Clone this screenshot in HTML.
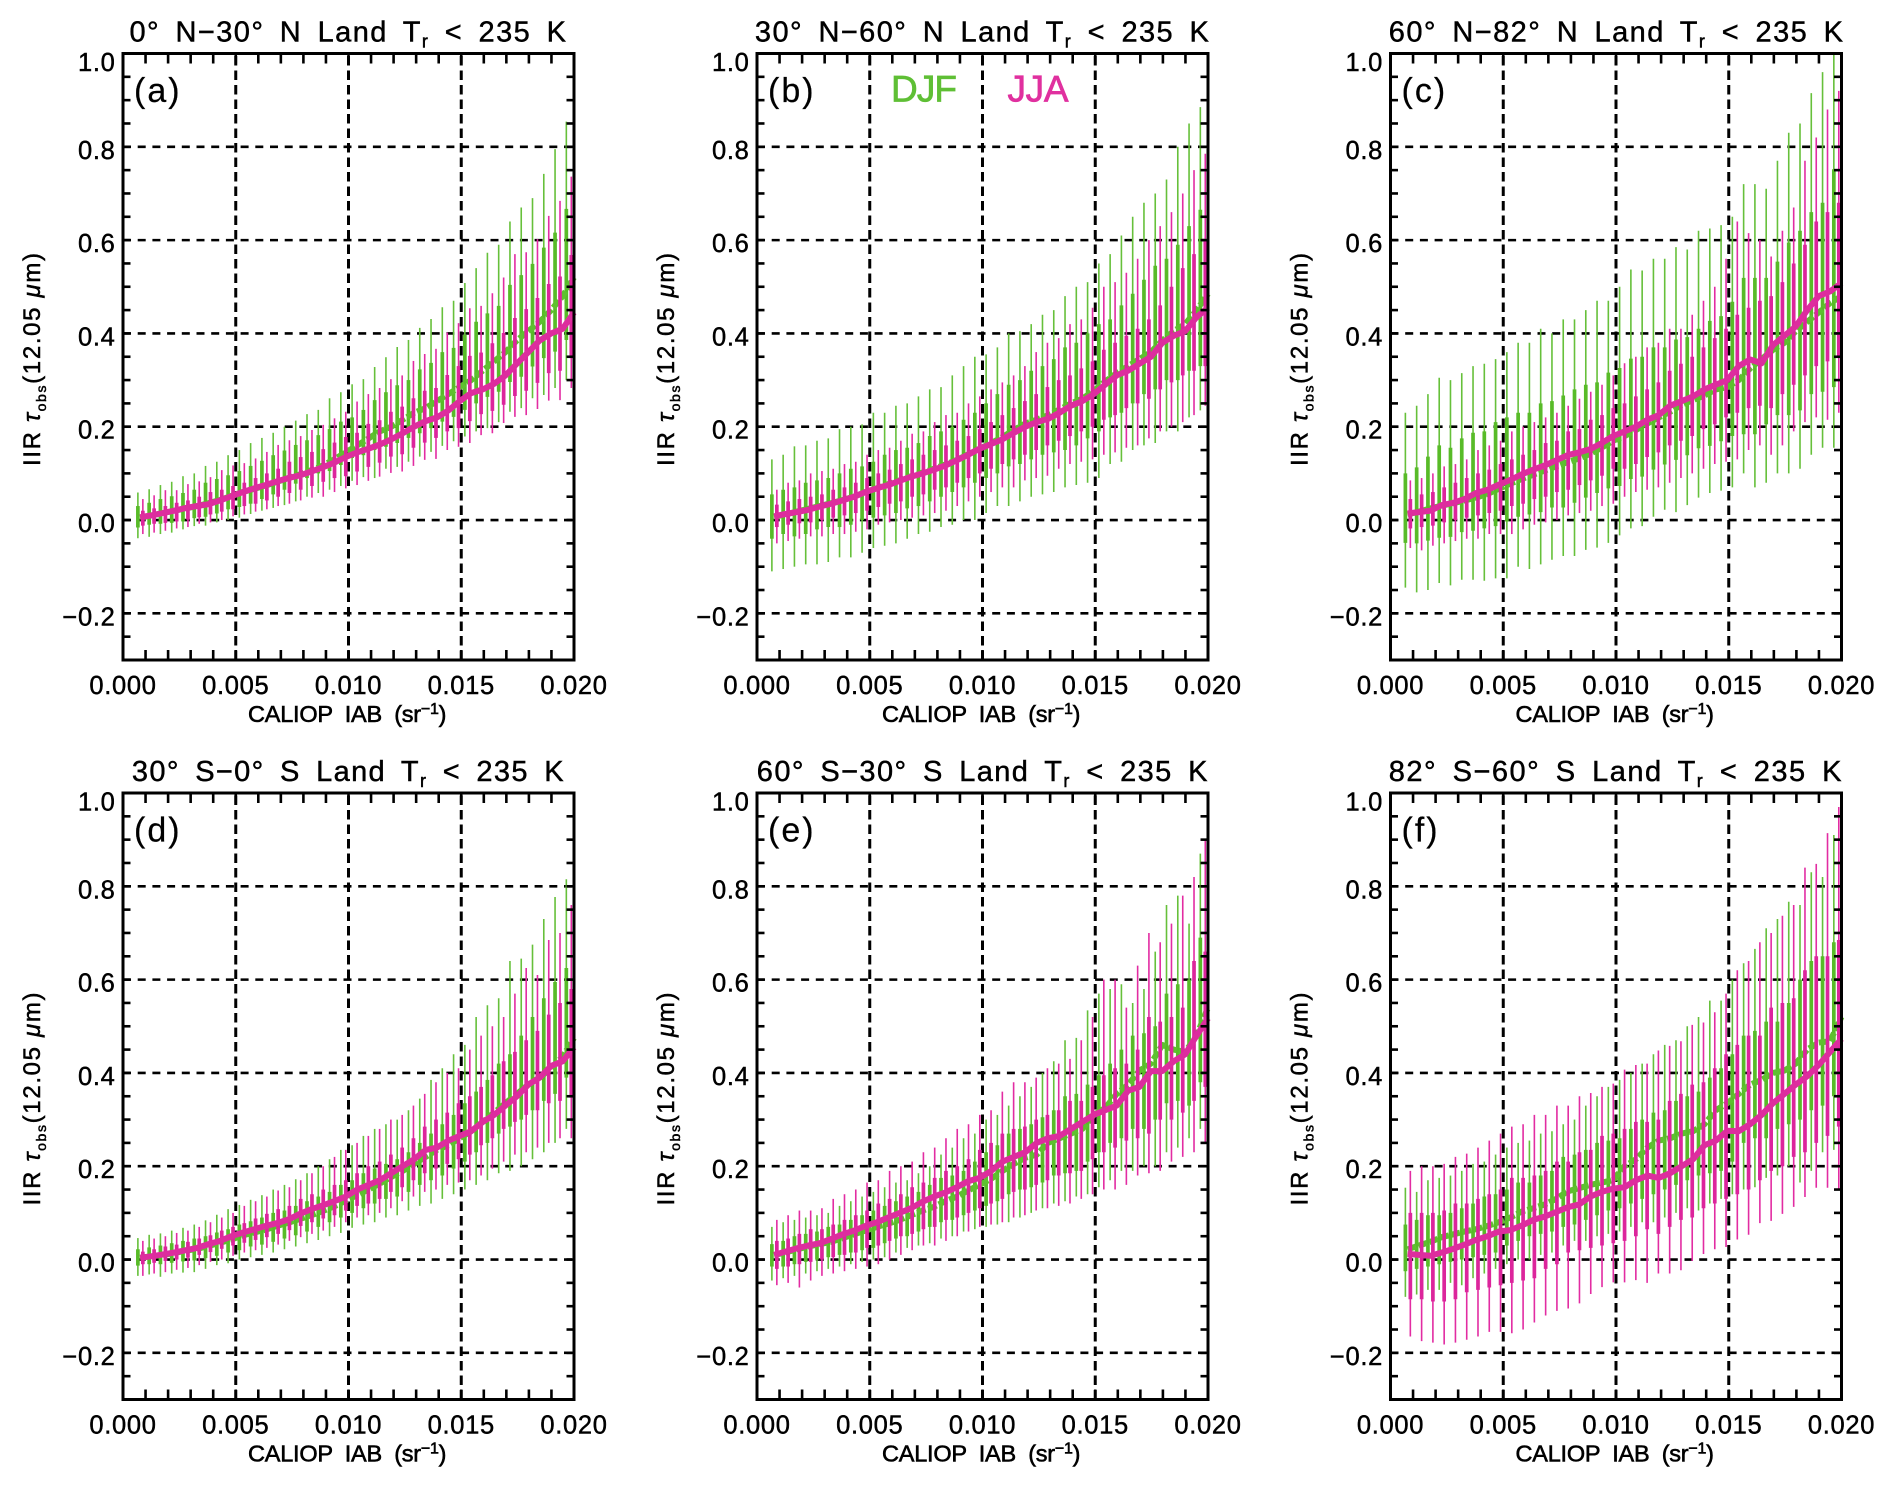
<!DOCTYPE html>
<html lang="en">
<head>
<meta charset="utf-8">
<title>IIR optical depth vs CALIOP IAB</title>
<style>
html,body{margin:0;padding:0;background:#fff;}
svg{display:block;filter:blur(0.35px);}
text{font-family:"Liberation Sans",sans-serif;fill:#000;stroke:#000;stroke-width:.45px;}
.title{font-size:29px;word-spacing:6px;}
.tick{font-size:25.5px;letter-spacing:.7px;}
.xt{font-size:23.5px;word-spacing:6px;stroke-width:.6px;}
.yt{font-size:24px;stroke-width:.5px;}
.pl{font-size:34px;letter-spacing:2px;stroke-width:.2px;}
.leg{font-size:37px;letter-spacing:1px;stroke-width:.7px;}
</style>
</head>
<body>
<svg id="fig" xmlns="http://www.w3.org/2000/svg" width="1892" height="1488" viewBox="0 0 1892 1488">
<rect width="1892" height="1488" fill="#fff"/>
<g id="panel-a" transform="translate(0,0)">
<g class="marks"></g>
<text class="title" x="129.5" y="41.7" textLength="436.5">0° N−30° N Land T<tspan font-size="18" dy="6">r</tspan><tspan dy="-6"> &lt; 235 K</tspan></text>
<text class="pl" x="134" y="102">(a)</text>
<text class="xt" x="248" y="722" textLength="198.5">CALIOP IAB (sr<tspan font-size="16" dy="-8">−1</tspan><tspan dy="8">)</tspan></text>
<text class="yt" transform="translate(40,466) rotate(-90)" textLength="213">IIR <tspan font-style="italic">τ</tspan><tspan font-size="14" dy="6">obs</tspan><tspan dy="-6">(12.05 </tspan><tspan font-style="italic">μ</tspan>m)</text>
</g>
<g id="panel-b" transform="translate(634,0)">
<g class="marks"></g>
<text class="title" x="120.9" y="41.7" textLength="454">30° N−60° N Land T<tspan font-size="18" dy="6">r</tspan><tspan dy="-6"> &lt; 235 K</tspan></text>
<text class="pl" x="134" y="102">(b)</text>
<text class="xt" x="248" y="722" textLength="198.5">CALIOP IAB (sr<tspan font-size="16" dy="-8">−1</tspan><tspan dy="8">)</tspan></text>
<text class="yt" transform="translate(40,466) rotate(-90)" textLength="213">IIR <tspan font-style="italic">τ</tspan><tspan font-size="14" dy="6">obs</tspan><tspan dy="-6">(12.05 </tspan><tspan font-style="italic">μ</tspan>m)</text>
<text class="leg" x="257" y="101.5" textLength="67" style="fill:#5fbf35;stroke:#5fbf35">DJF</text>
<text class="leg" x="373.5" y="101.5" textLength="62" style="fill:#e0309f;stroke:#e0309f">JJA</text>
</g>
<g id="panel-c" transform="translate(1267.5,0)">
<g class="marks"></g>
<text class="title" x="121.3" y="41.7" textLength="454.2">60° N−82° N Land T<tspan font-size="18" dy="6">r</tspan><tspan dy="-6"> &lt; 235 K</tspan></text>
<text class="pl" x="134" y="102">(c)</text>
<text class="xt" x="248" y="722" textLength="198.5">CALIOP IAB (sr<tspan font-size="16" dy="-8">−1</tspan><tspan dy="8">)</tspan></text>
<text class="yt" transform="translate(40,466) rotate(-90)" textLength="213">IIR <tspan font-style="italic">τ</tspan><tspan font-size="14" dy="6">obs</tspan><tspan dy="-6">(12.05 </tspan><tspan font-style="italic">μ</tspan>m)</text>
</g>
<g id="panel-d" transform="translate(0,739.5)">
<g class="marks"></g>
<text class="title" x="131.9" y="41.7" textLength="431.7">30° S−0° S Land T<tspan font-size="18" dy="6">r</tspan><tspan dy="-6"> &lt; 235 K</tspan></text>
<text class="pl" x="134" y="102">(d)</text>
<text class="xt" x="248" y="722" textLength="198.5">CALIOP IAB (sr<tspan font-size="16" dy="-8">−1</tspan><tspan dy="8">)</tspan></text>
<text class="yt" transform="translate(40,466) rotate(-90)" textLength="213">IIR <tspan font-style="italic">τ</tspan><tspan font-size="14" dy="6">obs</tspan><tspan dy="-6">(12.05 </tspan><tspan font-style="italic">μ</tspan>m)</text>
</g>
<g id="panel-e" transform="translate(634,739.5)">
<g class="marks"></g>
<text class="title" x="122.8" y="41.7" textLength="450.7">60° S−30° S Land T<tspan font-size="18" dy="6">r</tspan><tspan dy="-6"> &lt; 235 K</tspan></text>
<text class="pl" x="134" y="102">(e)</text>
<text class="xt" x="248" y="722" textLength="198.5">CALIOP IAB (sr<tspan font-size="16" dy="-8">−1</tspan><tspan dy="8">)</tspan></text>
<text class="yt" transform="translate(40,466) rotate(-90)" textLength="213">IIR <tspan font-style="italic">τ</tspan><tspan font-size="14" dy="6">obs</tspan><tspan dy="-6">(12.05 </tspan><tspan font-style="italic">μ</tspan>m)</text>
</g>
<g id="panel-f" transform="translate(1267.5,739.5)">
<g class="marks"></g>
<text class="title" x="121.3" y="41.7" textLength="452.7">82° S−60° S Land T<tspan font-size="18" dy="6">r</tspan><tspan dy="-6"> &lt; 235 K</tspan></text>
<text class="pl" x="134" y="102">(f)</text>
<text class="xt" x="248" y="722" textLength="198.5">CALIOP IAB (sr<tspan font-size="16" dy="-8">−1</tspan><tspan dy="8">)</tspan></text>
<text class="yt" transform="translate(40,466) rotate(-90)" textLength="213">IIR <tspan font-style="italic">τ</tspan><tspan font-size="14" dy="6">obs</tspan><tspan dy="-6">(12.05 </tspan><tspan font-style="italic">μ</tspan>m)</text>
</g>
</svg>
<script>
// Categories: IAB bin centres in units of 0.001 sr^-1
const binIab = [0.75,1.25,1.75,2.25,2.75,3.25,3.75,4.25,4.75,5.25, 5.75,6.25,6.75,7.25,7.75,8.25,8.75,9.25,9.75,10.25, 10.75,11.25,11.75,12.25,12.75,13.25,13.75,14.25,14.75,15.25, 15.75,16.25,16.75,17.25,17.75,18.25,18.75,19.25,19.75];
// Tick values (x: 0.001 sr^-1; y: 0.01 optical depth)
const xMajorValues = [0,5,10,15,20];
const xTickLabels = ['0.000','0.005','0.010','0.015','0.020'];
const xGridValues = [5,10,15];
const yMajorValues = [-20,0,20,40,60,80,100];
const yTickLabels = ['−0.2','0.0','0.2','0.4','0.6','0.8','1.0'];
const yGridValues = [-20,0,20,40,60,80];
// Series values in units of 0.01. med = median, q1/q3 = thick bar, lo/hi = thin bar
const a_djf_med = [0.5,1,1.5,2,2.5,3,3.6,4.3,5.2,6, 6.7,7.4,8.2,9,9.8,10.7,11.7,13,14.5,16, 17.5,19,20,21.5,23,24,25.5,27,28.5,30, 32,34,36,38.5,40.5,42.5,45,48,52];
const a_djf_hi = [5.9,6.6,7.5,8.2,9.4,10,11.6,12.5,13.9,15, 16.5,17.6,18.7,20,21.3,22.7,23.6,26.1,27.4,29.1, 30.2,32.8,34.9,37.1,38.6,41.2,43.1,45.6,47,50.8, 54,57.3,59,64,67,69,74.2,79.5,85.4];
const a_djf_lo = [-3.9,-3.6,-3,-2.7,-2,-1.3,-1.2,-.5,0,.5, 1.3,2,2.6,3.2,4,5,5.8,6.5,7.3,8.4, 9.2,9,11,11.4,12.5,13.6,14.6,15.9,16.9,17.9, 19,19.7,21,23.2,24,26.1,26.8,28.3,30];
const a_djf_q3 = [3,3.7,4.5,5.1,5.8,6.5,8,8.8,9.6,10.5, 11.6,12.7,13.9,14.9,16.1,17.1,18.2,19.5,21.1,22, 23.6,25.7,27.4,28.9,30,32.3,33.7,36,36.9,39.7, 42.5,44.3,45.9,50.4,52.5,54.9,58.4,61.6,66.7];
const a_djf_q1 = [-1.6,-1,-.8,-.6,-.3,.4,.7,1.4,2.3,2.8, 3.5,4.5,5.5,6.5,7.8,9,10,10.5,11.8,13.3, 13.9,15,15.7,16.5,17.6,18.6,19.7,21.1,22.1,23.6, 25,26.4,27.5,29.6,30.7,32.9,34.7,36.1,38.6];
const a_jja_med = [.6,1,1.5,2,2.6,3,3.4,4.2,5.1,6, 6.8,7.5,8.3,9,9.6,10.4,11.3,12.3,13.5,14.5, 15.3,16.2,17.3,18.6,20,21.2,22,23.5,25.5,27.2, 28,29.2,31,33.5,36,38.5,40,41,44.5];
const a_jja_hi = [4.5,5.3,6.4,6.4,7.7,8.3,9.2,10.7,11.7,12.2, 13.2,14.6,16.1,17.1,18,19.3,20.4,21.8,23.2,25.4, 27,28.3,30.2,31,34.1,35.6,36.7,40.2,42.2,45.4, 45.9,48.6,52,57,57.4,60.2,65.2,68.4,73.6];
const a_jja_lo = [-3,-2.7,-2.3,-1.8,-1.5,-.8,-.5,0,.8,1.2, 1.8,2.3,3,3.5,4.2,4.8,5,6,6.8,7.5, 8.4,9.3,10.1,10.4,11.6,12.9,13.1,15,15.7,16.5, 18.2,18.6,20.8,22.1,22.5,23.8,25.6,25.7,28.3];
const a_jja_q3 = [2,2.5,3,3.7,4.2,5,6,6.5,7.3,8, 9,10,11,12.5,13.5,14.6,15.2,16.6,17.8,18.7, 20.6,21.4,23.2,24.3,26.1,27.7,28.3,31.1,33,35.2, 35.9,37.9,40.1,43.3,45.2,47.6,50.6,52.2,56.8];
const a_jja_q1 = [-1.2,-.8,-.6,-.3,.1,.6,1.2,1.8,2.3,3, 3.5,4.2,5,5.8,6.5,7.3,8.2,9,9.4,10.4, 11.4,12.3,13.6,14.1,15.5,16.6,17.6,19,19.7,21.2, 22.7,23.4,24.7,26.6,27.7,29.4,31.5,32,34.7];

const b_djf_med = [.7,1.2,1.8,2.4,3,3.6,4.3,5,6,6.8, 7.7,8.5,9.4,10.2,11,11.9,12.9,14.1,15.3,16.5, 17.8,19.3,20.7,21.5,22.5,23.7,25,26,27.7,29.7, 31.5,33,34.5,36,38.5,40.5,42,45,48.5];
const b_djf_hi = [13,14,15.8,16,17,17.5,19.5,20,20.5,23, 23,24.5,25,26.5,28,28.5,31,33,35,35.5, 37,40,40.5,42,44,45,48,50,51,55, 57,61,65,68,70,73,80,85,88.5];
const b_djf_lo = [-11,-10.5,-10,-9.5,-9.5,-9,-8,-8,-7,-6, -5.5,-5,-4,-3,-2.5,-1.5,-1,0,0,1.5, 3,3,4,5,5.5,6,7,7.5,8,9, 12,12.5,15,16,16.5,19,19,22,23.5];
const b_djf_q3 = [5.5,6.5,7,8,8.5,9,10,11,11.5,12.5, 14,15,15.5,16.5,18,19,20,21.5,23,25, 27,29,30,32,33,34.5,37,38,40,42, 43,46,48.5,51.5,54.5,56,59,63,66.5];
const b_djf_q1 = [-4,-3,-3.5,-3,-2,-1.5,-1.5,-1,0,.5, 1,1.5,2.5,3,4,5,6,7,8,9, 10,11.5,12,13,14,14.5,15,16,17.5,19, 22,23,25,27,28,30,30,32,33];
const b_jja_med = [.8,1.3,1.7,2.2,2.9,3.5,4.2,5,6,6.8, 7.5,8.4,9.3,10,10.8,11.7,12.8,14,15.3,16.3, 17.3,18.7,20,21,21.7,23,24.5,25.5,27,29, 31,32,33.5,35,38,39.5,40.5,43.5,45.5];
const b_jja_hi = [6.5,8,8.5,10,10.5,11,12,12.5,14,15, 15.5,17,18.5,19,21,22.5,23,25,26.5,28, 29.5,31,33,36,38,39,42,43,45.5,50, 51,53,56,60,63,66,70,75,78.5];
const b_jja_lo = [-5,-4.5,-4,-3.5,-3.5,-3,-3,-2.5,-2,-1, -.5,0,.5,1,1.5,2,3,4,5,6, 7,7,8.5,9,9.5,11,12,12.5,13,14, 14.5,15.5,16,17.5,19,20,21,22.5,24.5];
const b_jja_q3 = [3.3,4,4.5,5,5.5,6.5,7,8,9,10, 10.8,12,13,14,15,16,17,18,19.5,21, 22.5,24,25.5,27,28.5,30,31,32.5,34,36.5, 38,39.5,41,43,46,50,54,57,60];
const b_jja_q1 = [-1.5,-1,-.7,-.5,0,.5,1,1.5,2,2.8, 3.5,4,5,5.5,6.5,7,8,9,10,11, 12,13,14,15,16,17,18,19,20,21.5, 22.5,24,25,26,28,29.5,31,32,33];

const c_djf_med = [1.2,1.8,2.5,3.1,3.6,4.2,4.8,5.6,6.7,7.8, 8.8,9.7,10.6,11.5,12.4,13.2,14.2,15.5,17,18, 19.3,20.7,22,23.2,24.7,25.7,26.7,28,28.5,30, 32.5,34.5,36.5,38,40.5,42.5,44.5,46.5,48];
const c_djf_hi = [23,24.5,27,30.5,30,31.5,33,33.5,34.5,36, 38,38,41,40,43,43,45,47,47,50, 53.7,53.5,56,56,58.5,58,62,62.5,63.2,65, 72,72,71,77,83,85,91.5,96,100];
const c_djf_lo = [-14.5,-15.5,-15,-13.5,-14,-12.8,-12.8,-13,-12.5,-12.5, -10,-10.5,-9.5,-8.5,-7.7,-7.7,-6.4,-5.9,-4.9,-3.3, -1.8,-1.3,.7,2.2,1.7,3.2,4.8,5.8,6.3,7, 10,7,8,10,10,11,14,15.5,15.5];
const c_djf_q3 = [10,11.3,13.6,16,15.5,17.5,18.7,19,21,22, 23,23,25,25.5,26.7,28,29,29.5,31.6,32.6, 34.6,35,37,37,38.7,39.2,41,42.7,43.7,46.8, 51.9,51.9,51.9,55.4,59.5,62,66,68,75.2];
const c_djf_q1 = [-4.9,-5,-4.4,-3.8,-3.6,-2.6,-2.3,-1.8,-1.3,-.3, .7,1.2,1.7,2.7,2.7,3.7,4.8,5.8,6.8,7.3, 8.8,9.3,10.8,11.9,12.9,13.9,15.4,15.9,16.9,18, 18.4,18.4,20.5,22.5,22.5,23.5,27,27.5,28.5];
const c_jja_med = [1.4,1.7,2,3.2,3.7,4.5,5.8,6.5,7.6,8.6, 9.8,10.8,11.7,12.8,13.9,14.5,15.2,16.5,18,19, 20,21.5,22.5,24.5,25.5,26.5,28,29,30,33, 34.4,33.6,37.5,39.5,41.5,45,48,49,50.8];
const c_jja_hi = [8.5,9,10,11.5,12,13,15,16,17,19, 20,21,22,23,24.5,26,27.5,29,31,33.6, 35,37,38,41,41,44,47,50,56,64, 61.5,60,56.5,62,67,77,82,88,92];
const c_jja_lo = [-6,-6.5,-5.5,-5,-4.5,-4,-4,-3,-3,-3, -2,-1,-.5,0,1,1.5,2,3,3.5,5, 6,6.5,7,8,9,10,11,12,12.5,13, 15,16,14,16,19,21,22,21.5,23];
const c_jja_q3 = [4.5,5.5,6,7,8,9,10,10.8,12,13, 14,15,16.5,17,19,19.5,21.5,22.5,24,25, 26.5,28,29.5,32,33.5,35,37,39,41,44, 45.5,47,48,51,55,59,64,66,68];
const c_jja_q1 = [-1.8,-1.5,-1.2,-.5,0,.5,1,1.5,2,3, 3.5,4.5,5,6,6.5,7.5,8.5,9.5,11,11, 12,13.5,14.5,16,17,18,19.5,20.5,22,23, 24,24.5,24,27,29,31,33,34,35];

const d_djf_med = [.4,.7,1,1.4,1.9,2.3,2.9,3.6,4.3,5.2, 5.8,6.4,7.2,7.9,8.7,9.5,10.4,11.4,12.6,13.8, 15,16.3,17.7,19,20.5,22,23.5,24.5,26,27.5, 29.5,31.5,33.5,35.5,37.5,39,41,43.5,47.5];
const d_djf_hi = [4.6,5.3,5.6,6.2,6.8,7.5,8.4,9.6,10.8,11.7, 12.8,13.8,15,16,17.2,18.5,20,21.5,23.5,24.5, 26.5,28,29,30,32,34.5,38.5,41,44,46, 52,54.5,56,64,64.5,67.5,73,77.7,81.5];
const d_djf_lo = [-3.5,-3.2,-3.7,-3,-2.8,-2.7,-2,-1.2,-.8,0, .5,1,1.5,2.2,2.8,3.5,4.2,5,5.7,6.8, 7.5,8,9,9.5,10.5,11.5,12,13,14,15, 16,17,18.5,19,20,21.5,23,25,28];
const d_djf_q3 = [2.2,2.6,3,3.5,4,4.5,5,5.8,6.5,7.5, 8.2,9,10,10.5,11.5,12.5,13.5,14.5,16,17, 18.5,19.5,20.5,21.5,23,25,27,29,31,33.5, 36,38.5,42,44,48,52,56,59.5,62.5];
const d_djf_q1 = [-1.3,-1,-1,-.7,-.4,-.2,.3,.8,1.5,2, 2.8,3.2,3.8,4.5,5.2,6,7,8,9,10, 11,12,13,13.5,14.5,16,17,18,19.5,21, 23,25,27,28.5,30,32,34,35.5,39];
const d_jja_med = [.4,.7,1.1,1.5,2,2.5,3.3,4,5,5.8, 6.5,7.2,7.8,8.6,9.8,10.8,11.6,12.5,13.5,15, 16,17,18.5,20,21.5,23.5,24,25.5,26.5,27.5, 29.5,31,33,35,37.5,39,41.5,42.5,45.5];
const d_jja_hi = [4,4.5,5,5.7,6.2,7,8,9,10,11.5, 12.5,13.5,14.8,15.5,17,18.5,20,22,23.5,25, 26.5,28,30,31,33,35.5,38,40,41,45, 48,50,52,57,62.5,61,68.5,70,76];
const d_jja_lo = [-3.5,-3,-2.7,-2.2,-1.8,-1.2,-.5,0,.8,1.5, 2,2.5,3.2,4,4.8,5.5,6.2,7,8,9, 9.5,10,11,12.5,13.5,14.5,15,16,16.5,17, 18,19.5,21,22.5,23,24,25,26,26];
const d_jja_q3 = [1.7,2.2,2.8,3.2,3.8,4.5,5.2,6.2,7,7.8, 8.8,9.8,10.8,11.5,13,14,15,16,17,18.5, 20,21,22.5,24,26,28.5,30,31.5,33.5,35, 37,39.5,42.5,44.5,47,49,52.5,55,58];
const d_jja_q1 = [-1,-.7,-.3,0,.4,1,1.6,2.3,3,3.6, 4.2,4.8,5.5,6.3,7.2,8,8.8,9.5,10.5,11.5, 12,13,14.5,15.5,17,18.5,19.5,20.5,21.5,22.5, 24.5,26,28,29.5,31,32,33.5,34,34.7];

const e_djf_med = [1,1.5,2.2,2.8,3.3,3.8,4.6,5.4,6.2,7, 7.7,8.5,9.5,10.5,11.3,12.5,13.5,14.8,16,17.3, 19,20.5,21.8,22.5,25,26,27,28,31,32.5, 35.5,37.5,40.5,42,46,45,44.5,48,54];
const e_djf_hi = [7,8,8.5,9,9.5,10,11.5,12.5,13.5,14.5, 15.5,16.5,17,18.5,20,22.5,24,26,27,30, 31,33,35,37,40,42.5,47,47.5,53.4,57, 58,59,55,58,66,76,78,72,87];
const e_djf_lo = [-4.5,-4,-3.5,-3,-2.5,-2,-1.5,-1,-.5,0, .5,1.5,2.5,3,3.5,4.5,5,6,6.5,7, 7.5,8,9,10,11,12,12.5,13.5,14,15.5, 17,19,19,20,20,23,24,26,28];
const e_djf_q3 = [3.3,4,5,5.5,6,7,7.5,8.5,9.5,10.5, 11.5,12.5,13.5,14.5,16,17.5,18,19,21,23, 24.5,27,28,29,30.5,32,35,35.5,37.5,39.5, 42,45,48,48.5,50,57,59,60,69];
const e_djf_q1 = [-1.5,-1.5,-1,-.5,0,.5,1,1.5,2,2.5, 3.5,4.5,5,6,7,8,8.5,9.5,10.5,11.5, 12.5,14,15,15.5,16.5,18,18.5,19,21,23, 25,26,28,28,30,33.5,34,33,38];
const e_jja_med = [1,1.7,2.4,3,3.5,4.4,5.4,6.2,7.2,8, 9,10,11,12.4,13.5,14.4,15.5,16.8,17.5,19, 21,22,23,25,26,26.5,28,29.5,31,32, 33,36.2,37,40.4,40.4,42.5,44,48,51.7];
const e_jja_hi = [8.5,9.5,10.5,10.5,11,13,14,15,16.5,17, 19,20,21,23,24,26,28,29,31,32, 36,38,38,39,41,42,43,47,52,60, 60,54,63,70,68,72,78,82,90];
const e_jja_lo = [-5.5,-5,-6,-4.5,-3.5,-3,-2.5,-2,-1.5,-1, 0,1,2,3,3,4,5,6,7,7.5, 8,9,9.5,10.5,11,11.5,12,13,14,15, 15,16,18,18.5,19,21,22,23,25];
const e_jja_q3 = [4,4.5,5.5,6.5,6.5,7.5,8.5,9.5,10.5,12, 13,14,15.5,16.5,17.5,19,20,21.5,23.5,25, 27,28,28.5,30,31,32,34,34,37,39.5, 41,42,45,52,51,52,54,64,66];
const e_jja_q1 = [-2,-1.5,-1,-.5,0,.5,1,1.5,2.5,3, 4,5,5.5,6.5,7,8.5,9,10,11,12, 13,14.5,15,16,17,18,18.5,19,21.5,23, 24,25.5,26,27,30,30,31.5,34,37];

const f_djf_med = [2.2,3,3.8,4.8,5.4,6,6.5,7.2,8,9, 10.3,11,11.8,13,14.6,15.3,16,16.5,17,20, 21.5,24,25.5,26,27,27.5,29,32,33.5,35.5, 37.5,38.5,40,40.5,42,45,46.5,46.8,52];
const f_djf_hi = [15.4,14.5,17,17.5,18,19,20.5,21,22.5,24, 25,25.5,27,27.5,29,30,33,35,37,38.5, 40,42,44,46,47,50,52,55.5,55.5,60, 63.5,66.6,71,73,76.7,76,83,82,91];
const f_djf_lo = [-8,-7.5,-6.5,-6.5,-5,-5.5,-4,-3,-2,-1, 0,0,1,1.5,3,4,4,5,5.5,6, 7,8,8,9,10,11,10.5,12,13,14, 15,15.5,17.5,18,20,16.5,19,23,23.5];
const f_djf_q3 = [7.5,8.5,9.5,9.5,10,11,12,13.5,14,15, 16.5,16.5,18,19,22,22.5,23.5,25,25.5,26, 28,30,31.5,32,34,35,36,39,41,44, 48,49,51,51,55,60,64,65,68];
const f_djf_q1 = [-2.5,-2,-1.5,-1,-.5,0,.5,1,1.5,3, 4,5,5.5,6,7,7.5,8.5,9.5,10.5,11, 12,13,14,15,16,17,18,18.5,19,21, 25,26,26,28,29,30,32,33,35];
const f_jja_med = [1.2,1,.8,1.5,2.3,3.2,4.2,5,6,6.3, 7.3,8.5,9.2,10.2,11.2,11.8,13.5,14.5,15.2,15.5, 17,18,17.5,18.5,20,21.5,24.5,25.5,27.6,27.5, 29,31,33.5,35.5,37.5,39.3,41.7,44.5,47.3];
const f_jja_hi = [19,20,20,20.5,22,22.7,24,25.5,27,28.5, 29,31,31,33,33,35,35.7,37,37.7,40.7, 41.7,42,44.8,45.8,46.8,50.3,50.8,53,57,62, 64,68,70,73.7,76,84,84.8,91.4,97];
const f_jja_lo = [-16.5,-17.5,-17.8,-18.2,-17.8,-17.2,-16.5,-15.5,-15.5,-15.8, -15,-13.5,-12,-11,-10.5,-9.4,-7.4,-5.9,-4.9,-4.9, -4.4,-5,-3,-3,-2.3,-.3,1.2,2.2,2.7,4.3, 5.3,7.8,8.3,9.8,11.3,13.4,15.4,15.4,15];
const f_jja_q3 = [10,10,10,10.5,12,12,13,14,15,17.5, 17.5,18,19,21,21,23,23.5,26.5,27,28, 29.5,29.5,30,34,35.5,37.5,38,41,44,46, 48,48,54,55,56,62,65,65,68.5];
const f_jja_q1 = [-8.5,-8.5,-9,-9,-8.5,-7,-6.5,-6,-5.5,-5, -4.5,-4,-2,-1,1.5,2,2.5,3,3.5,4, 5,6.5,5.5,7,8.5,9,11,12,13,14, 15,17,19,20,22,23,25,26.5,28.5];

const panelData = [
  {id:'panel-a',djf:[a_djf_med,a_djf_lo,a_djf_hi,a_djf_q1,a_djf_q3],jja:[a_jja_med,a_jja_lo,a_jja_hi,a_jja_q1,a_jja_q3]},
  {id:'panel-b',djf:[b_djf_med,b_djf_lo,b_djf_hi,b_djf_q1,b_djf_q3],jja:[b_jja_med,b_jja_lo,b_jja_hi,b_jja_q1,b_jja_q3]},
  {id:'panel-c',djf:[c_djf_med,c_djf_lo,c_djf_hi,c_djf_q1,c_djf_q3],jja:[c_jja_med,c_jja_lo,c_jja_hi,c_jja_q1,c_jja_q3]},
  {id:'panel-d',djf:[d_djf_med,d_djf_lo,d_djf_hi,d_djf_q1,d_djf_q3],jja:[d_jja_med,d_jja_lo,d_jja_hi,d_jja_q1,d_jja_q3]},
  {id:'panel-e',djf:[e_djf_med,e_djf_lo,e_djf_hi,e_djf_q1,e_djf_q3],jja:[e_jja_med,e_jja_lo,e_jja_hi,e_jja_q1,e_jja_q3]},
  {id:'panel-f',djf:[f_djf_med,f_djf_lo,f_djf_hi,f_djf_q1,f_djf_q3],jja:[f_jja_med,f_jja_lo,f_jja_hi,f_jja_q1,f_jja_q3]}
];

const NS = 'http://www.w3.org/2000/svg';
const L = 123, R = 574, T = 53.5, B = 660;
function xScale(v){ return L + (v - 0) / 20 * (R - L); }
function yScale(v){ return T + (100 - v) / 130 * (B - T); }
function shape(parent, tag, attrs){
  const el = document.createElementNS(NS, tag);
  for (const k in attrs) el.setAttribute(k, attrs[k]);
  parent.appendChild(el);
  return el;
}
function drawSegment(parent, x1, y1, x2, y2, color, width, dash, name){
  const el = shape(parent, 'line', {x1:x1, y1:y1, x2:x2, y2:y2, stroke:color, 'stroke-width':width});
  if (dash) el.setAttribute('stroke-dasharray', dash);
  
  
  return el;
}
function drawSeries(g, s, seriesName, barOffset, thinColor, thickColor, lineColor, lineDash){
  const med = s[0], lo = s[1], hi = s[2], q1 = s[3], q3 = s[4];
  binIab.forEach(function(b, i){
    const x = xScale(b + barOffset);
    drawSegment(g, x, yScale(lo[i]), x, yScale(hi[i]), thinColor, 1.6, null, seriesName + '-whisker');
  });
  binIab.forEach(function(b, i){
    const x = xScale(b + barOffset);
    drawSegment(g, x, yScale(q1[i]), x, yScale(q3[i]), thickColor, 3.7, null, seriesName + '-box');
  });
  const pts = binIab.map(function(b, i){ return xScale(b * 20 / 19.75).toFixed(1) + ',' + yScale(med[i]).toFixed(1); }).join(' ');
  const line = shape(g, 'polyline', {points:pts, fill:'none', stroke:lineColor, 'stroke-width':6, 'stroke-linejoin':'round'});
  if (lineDash) line.setAttribute('stroke-dasharray', lineDash);
  
  
}
panelData.forEach(function(p){
  const g = document.querySelector('#' + p.id + ' .marks');
  const panelG = document.getElementById(p.id);
  // gridlines
  xGridValues.forEach(function(v){
    drawSegment(g, xScale(v), B, xScale(v), T, '#000', 3, '9.5 5', 'vertical-gridline');
  });
  yGridValues.forEach(function(v){
    drawSegment(g, L, yScale(v), R, yScale(v), '#000', 2.6, '8 6.7', 'horizontal-gridline');
  });
  // series
  drawSeries(g, p.djf, 'djf', -0.09, '#66c03a', '#58bb28', '#5fc030', '9 2.5');
  drawSeries(g, p.jja, 'jja', 0.13, '#e22ca2', '#dc259c', '#dd2d9e', null);
  // frame
  const frame = shape(g, 'rect', {x:L, y:T, width:R-L, height:B-T, fill:'none', stroke:'#000', 'stroke-width':3});
  
  
  // x minor and major ticks (every 0.001)
  for (let t = 1; t < 20; t++){
    const x = xScale(t);
    drawSegment(g, x, B, x, B - 10, '#000', 2.6, null, 'x-tick');
    drawSegment(g, x, T, x, T + 10, '#000', 2.6, null, 'x-tick-top');
  }
  // y minor and major ticks (every 0.05)
  for (let t = -25; t < 100; t += 5){
    const y = yScale(t);
    drawSegment(g, L, y, L + 7.5, y, '#000', 2.6, null, 'y-tick');
    drawSegment(g, R, y, R - 7.5, y, '#000', 2.6, null, 'y-tick-right');
  }
  // x labels
  xMajorValues.forEach(function(v, i){
    const t = shape(panelG, 'text', {x:xScale(v), y:694, 'text-anchor':'middle', 'class':'tick'});
    t.textContent = xTickLabels[i];
    
    
  });
  // y labels
  yMajorValues.forEach(function(v, i){
    const by = v === 100 ? 71 : yScale(v) + 12;
    const t = shape(panelG, 'text', {x:115.5, y:by, 'text-anchor':'end', 'class':'tick'});
    t.textContent = yTickLabels[i];
    
    
  });
});
</script>
</body>
</html>
